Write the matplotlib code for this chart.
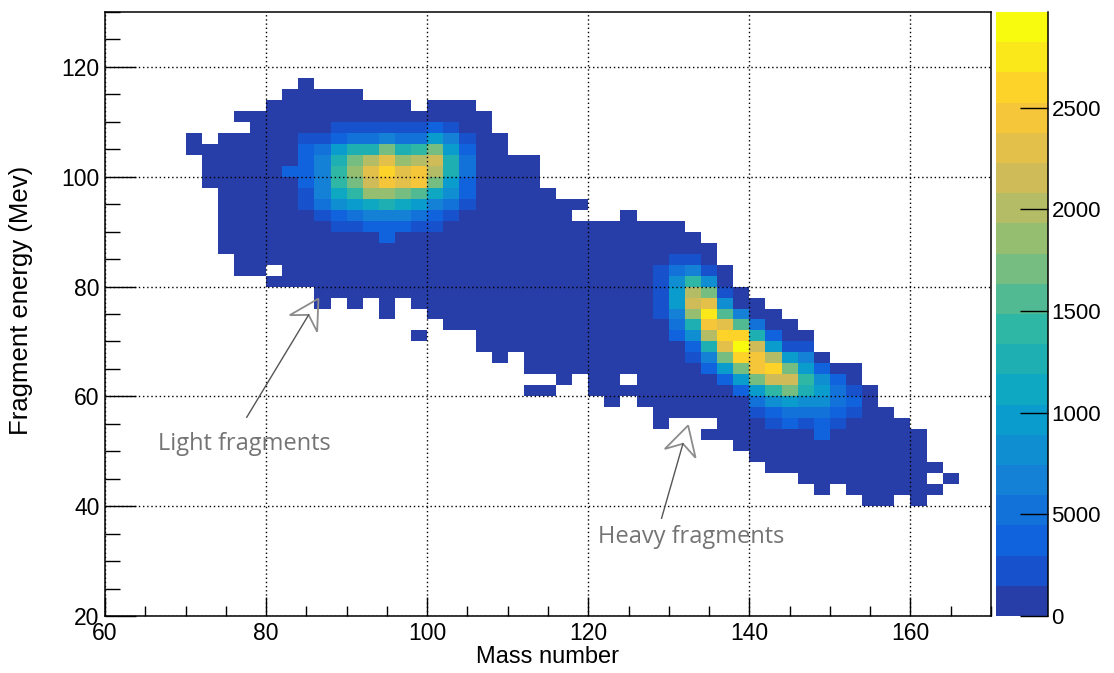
"""
Fission fragment energy vs mass (ROOT-style COLZ histogram)
"""
import numpy as np
import matplotlib
matplotlib.use("Agg")
import matplotlib.pyplot as plt
from matplotlib.colors import LinearSegmentedColormap, ListedColormap, BoundaryNorm
from matplotlib.patches import Polygon
from matplotlib.transforms import IdentityTransform

# %%
# Data
# -------------------------
# bins are 2 units wide in mass and 2 MeV high in energy; every energy below
# is the lower edge of a bin.  Colour levels are the 20 palette bands (0..19).

col_mass = list(range(70, 166, 2))
col_e_min = [104, 98, 86, 82, 82, 80, 80, 80, 76, 78, 76, 78, 74, 78, 76, 74,
             72, 72, 68, 66, 68, 60, 60, 62, 64, 60, 58, 60, 58, 54, 56, 56,
             52, 52, 50, 48, 46, 46, 44, 42, 44, 42, 40, 40, 42, 40, 42, 44]
col_e_max = [106, 104, 106, 110, 110, 112, 114, 116, 114, 114, 114, 112, 112,
             112, 110, 112, 112, 112, 110, 106, 102, 102, 96, 94, 94, 90, 90,
             92, 90, 90, 90, 88, 86, 82, 78, 76, 74, 72, 70, 66, 64, 64, 60,
             56, 54, 52, 46, 44]
empty_cells = [(76, 108), (80, 82), (112, 62), (114, 62), (118, 92),
               (124, 62), (134, 54), (162, 44)]
isolated_cells = [(98, 70)]

light_mass = [82, 84, 86, 88, 90, 92, 94, 96, 98, 100, 102, 104]
light_e_low = [100, 94, 92, 90, 90, 90, 88, 90, 90, 90, 92, 94]
light_levels = [
    [2],
    [1, 1, 2, 2, 2, 2, 1],
    [1, 3, 4, 4, 4, 4, 3, 1],
    [1, 2, 5, 7, 9, 9, 8, 6, 2, 1],
    [1, 3, 6, 9, 11, 12, 11, 8, 3, 1],
    [2, 4, 7, 12, 14, 15, 13, 8, 3, 1],
    [2, 2, 4, 8, 12, 16, 17, 15, 11, 4, 1],
    [2, 4, 7, 11, 15, 15, 12, 8, 3, 1],
    [1, 3, 6, 10, 16, 16, 13, 9, 3, 1],
    [1, 2, 4, 7, 11, 13, 14, 11, 6, 2],
    [1, 3, 5, 6, 8, 8, 6, 4, 1],
    [1, 2, 2, 3, 3, 2, 1],
]

heavy_mass = [128, 130, 132, 134, 136, 138, 140, 142, 144, 146, 148, 150, 152]
heavy_e_low = [74, 70, 66, 64, 62, 60, 56, 54, 54, 54, 52, 54, 56]
heavy_levels = [
    [1, 1, 1, 1, 1],
    [2, 3, 4, 6, 6, 5, 3, 1],
    [1, 2, 5, 8, 12, 14, 13, 9, 4, 1],
    [2, 4, 8, 13, 16, 18, 15, 11, 5, 1],
    [2, 6, 11, 15, 17, 15, 10, 5, 1],
    [2, 6, 11, 17, 19, 17, 10, 4],
    [1, 3, 6, 11, 16, 16, 14, 8, 3],
    [1, 2, 5, 9, 14, 17, 13, 6, 2],
    [2, 3, 6, 11, 14, 11, 6, 1],
    [1, 3, 5, 8, 9, 6, 4, 1],
    [2, 2, 3, 5, 6, 5, 2],
    [1, 2, 3, 3, 2],
    [1, 2, 1],
]

z_max = 2970                      # top of the palette axis
n_bands = 20
cbar_ticks = [0, 500, 1000, 1500, 2000, 2500]
cbar_labels = ["0", "5000", "1000", "1500", "2000", "2500"]

# %%
# Build the 2D histogram
# ----------------------
mass_edges = np.arange(60, 172, 2)
energy_edges = np.arange(20, 132, 2)
level = np.full((len(energy_edges) - 1, len(mass_edges) - 1), -1)


def idx(m, e):
    return (e - 20) // 2, (m - 60) // 2


for m, lo, hi in zip(col_mass, col_e_min, col_e_max):
    for e in range(lo, hi + 1, 2):
        level[idx(m, e)] = 0
for m, e in empty_cells:
    level[idx(m, e)] = -1
for m, e in isolated_cells:
    level[idx(m, e)] = 0
for masses, lows, levs in [(light_mass, light_e_low, light_levels),
                           (heavy_mass, heavy_e_low, heavy_levels)]:
    for m, lo, vals in zip(masses, lows, levs):
        for k, v in enumerate(vals):
            level[idx(m, lo + 2 * k)] = v

band = z_max / n_bands
counts = np.ma.masked_less((level + 0.5) * band, 0)

# ROOT kBird palette, 20 contour bands
stops = [0.0, 0.125, 0.25, 0.375, 0.5, 0.625, 0.75, 0.875, 1.0]
red = [0.2082, 0.0592, 0.0780, 0.0232, 0.1802, 0.5301, 0.8186, 0.9956, 0.9764]
green = [0.1664, 0.3599, 0.5041, 0.6419, 0.7178, 0.7492, 0.7328, 0.7862, 0.9832]
blue = [0.5293, 0.8684, 0.8385, 0.7914, 0.6425, 0.4662, 0.3499, 0.1968, 0.0539]
bird = LinearSegmentedColormap.from_list("bird", list(zip(stops, zip(red, green, blue))))
cmap = ListedColormap([bird((i + 0.99) / n_bands) for i in range(n_bands)])
norm = BoundaryNorm(np.linspace(0, z_max, n_bands + 1), n_bands)

# %%
# Figure
# ------
plt.rcParams["font.family"] = ["Liberation Sans", "DejaVu Sans"]
W, H = 1114, 673
fig = plt.figure(figsize=(W / 100, H / 100), dpi=100)
ax = fig.add_axes([105 / W, 1 - 616 / H, 886 / W, 604 / H])
cax = fig.add_axes([996 / W, 1 - 616 / H, 52 / W, 604 / H])

mesh = ax.pcolormesh(mass_edges, energy_edges, counts, cmap=cmap, norm=norm)
ax.set_xlim(60, 170)
ax.set_ylim(20, 130)

ax.set_xticks(np.arange(60, 171, 20))
ax.set_xticks(np.arange(60, 171, 5), minor=True)
ax.set_yticks(np.arange(20, 131, 20))
ax.set_yticks(np.arange(20, 131, 5), minor=True)
ax.tick_params(axis="both", which="both", direction="in", top=False,
               right=False, width=1.0, labelsize=16.5)
ax.tick_params(axis="x", which="major", length=14, pad=4)
ax.tick_params(axis="x", which="minor", length=7.5)
ax.tick_params(axis="y", which="major", length=22, pad=4)
ax.tick_params(axis="y", which="minor", length=11)
ax.grid(True, which="major", color="black", linestyle=(0, (1, 2)), linewidth=1.0)
for s in ax.spines.values():
    s.set_linewidth(1.1)

ax.set_xlabel("Mass number", fontsize=17)
ax.xaxis.set_label_coords(0.5, -0.05)
ax.set_ylabel("Fragment energy (Mev)", fontsize=18.5)
ax.yaxis.set_label_coords(-0.095, 0.523)
ax.yaxis.label.set_va("center")

cb = fig.colorbar(mesh, cax=cax, ticks=cbar_ticks)
cb.ax.set_yticklabels(cbar_labels)
cb.outline.set_visible(False)
cax.tick_params(direction="in", length=20, width=1.0, labelsize=16, pad=2.5)
cax.minorticks_off()
cax.plot([1, 1], [0, 1], color="black", lw=1.1, transform=cax.transAxes,
         clip_on=False)

# %%
# Hand-drawn style annotations
# ----------------------------


def open_arrow(tail, tip, head_len=29, half_w=16, notch=10):
    p0 = ax.transData.transform(tail)
    p1 = ax.transData.transform(tip)
    u = (p1 - p0) / np.hypot(*(p1 - p0))
    n = np.array([-u[1], u[0]])
    back = p1 - u * head_len
    inner = p1 - u * (head_len - notch)
    head = [p1, back + n * half_w, inner, back - n * half_w]
    ax.add_patch(Polygon(head, closed=True, fill=False, ec="#8c8c8c", lw=1.3,
                         transform=IdentityTransform(), clip_on=False))
    ax.add_line(plt.Line2D([p0[0], inner[0]], [p0[1], inner[1]], color="#555555",
                           lw=1.0, transform=IdentityTransform()))


open_arrow((77.6, 56.2), (86.5, 77.8))
open_arrow((129.1, 37.8), (132.4, 54.7))
ax.text(66.6, 51.3, "Light fragments", family="Open Sans", fontsize=17,
        color="#747474", va="center", ha="left")
ax.text(121.2, 34.3, "Heavy fragments", family="Open Sans", fontsize=17,
        color="#747474", va="center", ha="left")

fig.savefig("out.png", dpi=100)
